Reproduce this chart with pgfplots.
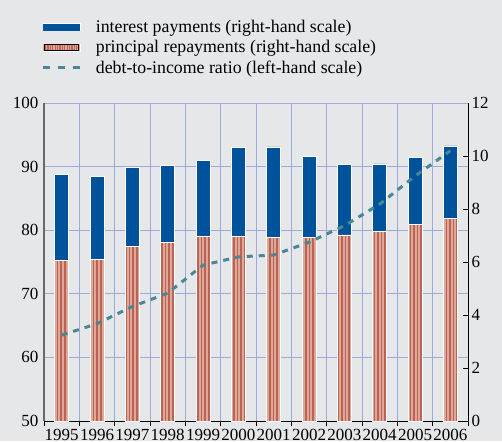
\documentclass[border=0pt]{standalone}
\usepackage{pgfplots}
\pgfplotsset{compat=1.18}
\usepackage{fontspec}
\setmainfont{Liberation Serif}
\usetikzlibrary{patterns.meta}
\definecolor{bg}{RGB}{230,231,233}
\definecolor{gridc}{RGB}{158,170,218}
\definecolor{intblue}{RGB}{0,82,155}
\definecolor{prl}{RGB}{222,168,152}
\definecolor{prd}{RGB}{188,98,84}
\definecolor{tealc}{RGB}{74,135,148}
\definecolor{axgray}{RGB}{105,105,105}
\begin{document}
\begin{tikzpicture}
\fill[bg] (-44pt,-20pt) rectangle (458pt,421pt);
% bars: right-hand scale
\begin{axis}[
  at={(0pt,0pt)}, anchor=south west, scale only axis,
  width=424pt, height=318pt,
  xmin=0.5, xmax=12.5, ymin=0, ymax=12,
  axis y line*=right, axis x line*=bottom,
  axis line style={black, line width=0.8pt},
  /pgf/number format/assume math mode=true,
  tick label style={font=\fontsize{17}{20}\selectfont},
  ytick={0,2,...,12},
  y tick style={black, line width=0.8pt},
  tick align=inside, major tick length=5pt,
  xtick={1,...,12},
  xticklabels={1995,1996,1997,1998,1999,2000,2001,2002,2003,2004,2005,2006},
  major x tick style={draw=none},
  minor xtick={0.5,1.5,...,12.5},
  minor x tick style={black, line width=0.8pt},
  minor tick length=5pt,
  xminorgrids=true,
  minor x grid style={gridc, line width=0.8pt},
  extra y ticks={2.4,4.8,7.2,9.6,12},
  extra y tick labels={},
  extra y tick style={ymajorgrids=true, major grid style={gridc, line width=0.8pt}, major tick length=0pt},
  xtick align=outside,
  ybar stacked, bar width=14pt,
]
\addplot[fill=prl, draw=white, line width=0.7pt,
  postaction={pattern={Lines[angle=90,distance=3.6pt,line width=1.7pt]}, pattern color=prd}]
  coordinates {(1,6.07) (2,6.09) (3,6.60) (4,6.75) (5,6.95) (6,6.95) (7,6.92) (8,6.92) (9,7.02) (10,7.15) (11,7.41) (12,7.64)};
\addplot[fill=intblue, draw=white, line width=0.7pt]
  coordinates {(1,3.24) (2,3.14) (3,2.96) (4,2.89) (5,2.89) (6,3.37) (7,3.42) (8,3.06) (9,2.65) (10,2.55) (11,2.55) (12,2.74)};
\end{axis}
% line: left-hand scale
\begin{axis}[
  at={(0pt,0pt)}, anchor=south west, scale only axis,
  width=424pt, height=318pt,
  xmin=0.5, xmax=12.5, ymin=50, ymax=100,
  axis y line*=left, axis x line=none,
  axis line style={axgray, line width=1.8pt},
  /pgf/number format/assume math mode=true,
  tick label style={font=\fontsize{17}{20}\selectfont},
  ytick={50,60,...,100}, major tick length=0pt,
  y tick label style={xshift=-2pt},
  legend style={at={(axis description cs:-0.014,1.274)}, anchor=north west,
    draw=none, fill=none, font=\fontsize{17.8}{21}\selectfont, row sep=2.5pt},
  legend cell align=left,
]
\addlegendimage{legend image code/.code={\fill[white] (0pt,-3.6pt) rectangle (37pt,3.6pt); \fill[intblue] (0.7pt,-2.9pt) rectangle (36.3pt,2.9pt); \path[draw=none,fill=none] (37pt,0pt) -- (51pt,0pt);}}
\addlegendentry{interest payments (right-hand scale)}
\addlegendimage{legend image code/.code={\fill[white] (0pt,-3.6pt) rectangle (37pt,3.6pt); \fill[prl] (0.7pt,-2.9pt) rectangle (36.3pt,2.9pt); \fill[pattern={Lines[angle=90,distance=2.4pt,line width=1.1pt]}, pattern color=prd] (1.5pt,-2.9pt) rectangle (35.5pt,2.9pt); \path[draw=none,fill=none] (37pt,0pt) -- (51pt,0pt);}}
\addlegendentry{principal repayments (right-hand scale)}
\addlegendimage{legend image code/.code={\draw[tealc, line width=3.2pt, dash pattern=on 7pt off 8pt] (0pt,0pt) -- (37pt,0pt); \path[draw=none,fill=none] (37pt,0pt) -- (51pt,0pt);}}
\addlegendentry{debt-to-income ratio (left-hand scale)}
\addplot[forget plot, tealc, line width=3pt, dash pattern=on 6pt off 6pt]
  coordinates {(1,63.5) (2,65.3) (3,68.0) (4,70.1) (5,74.5) (6,75.8) (7,76.1) (8,78.1) (9,80.7) (10,84.1) (11,88.5) (12,92.5)};
\end{axis}
\pgfresetboundingbox
\path[use as bounding box] (-44pt,-20pt) rectangle (458pt,421pt);
\end{tikzpicture}
\end{document}
